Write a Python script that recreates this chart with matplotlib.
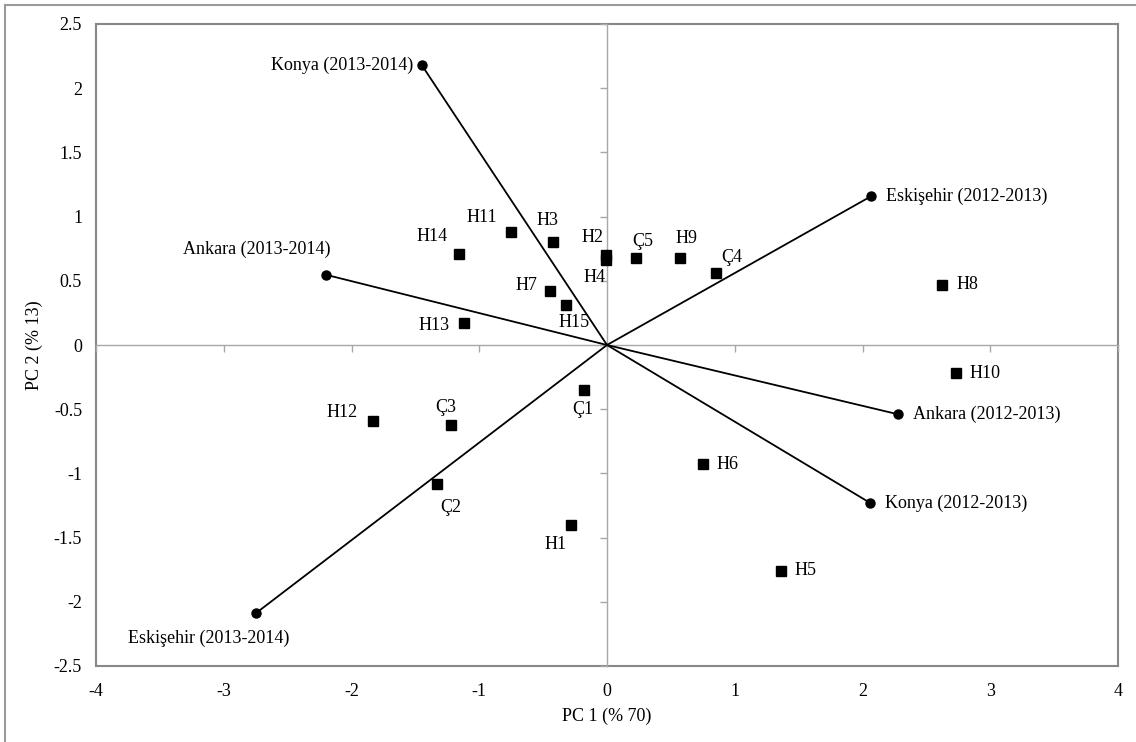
"""
PCA biplot: genotypes (squares) and environments (vectors) on PC1 / PC2.
"""
import matplotlib.pyplot as plt
from matplotlib.lines import Line2D

# environment vectors (end points)
env_names = ["Konya (2013-2014)", "Ankara (2013-2014)", "Eskişehir (2013-2014)",
             "Eskişehir (2012-2013)", "Ankara (2012-2013)", "Konya (2012-2013)"]
env_pc1 = [-1.45, -2.20, -2.75, 2.07, 2.28, 2.06]
env_pc2 = [2.18, 0.547, -2.09, 1.16, -0.54, -1.23]

# genotypes
gen_names = ["H14", "H11", "H3", "H2", "H4", "Ç5", "H9", "Ç4", "H7", "H15", "H13",
             "H8", "H10", "H6", "H5", "Ç1", "Ç3", "Ç2", "H1", "H12"]
gen_pc1 = [-1.16, -0.755, -0.42, -0.01, -0.01, 0.23, 0.57, 0.85, -0.45, -0.32, -1.12,
           2.62, 2.73, 0.755, 1.36, -0.18, -1.22, -1.33, -0.28, -1.83]
gen_pc2 = [0.71, 0.88, 0.80, 0.70, 0.66, 0.68, 0.68, 0.56, 0.42, 0.31, 0.17,
           0.47, -0.22, -0.93, -1.76, -0.35, -0.62, -1.08, -1.40, -0.59]

x_ticks = [-4, -3, -2, -1, 0, 1, 2, 3, 4]
y_ticks = [-2.5, -2, -1.5, -1, -0.5, 0, 0.5, 1, 1.5, 2, 2.5]

# label placement (offset in pixels from the marker, horizontal alignment)
env_label_pos = {
    "Konya (2013-2014)": (-9, 0, "right"),
    "Ankara (2013-2014)": (-69, 25, "center"),
    "Eskişehir (2013-2014)": (-47, -25, "center"),
    "Eskişehir (2012-2013)": (15, 0, "left"),
    "Ankara (2012-2013)": (15, 0, "left"),
    "Konya (2012-2013)": (15, 0, "left"),
}
gen_label_pos = {
    "H14": (-27, 17, "center"), "H11": (-29, 15, "center"), "H3": (-6, 22, "center"),
    "H2": (-13, 18, "center"), "H4": (-11, -17, "center"), "Ç5": (6, 16, "center"),
    "H9": (7, 19, "center"), "Ç4": (16, 16, "center"), "H7": (-12, 6, "right"),
    "H15": (8, -17, "center"), "H13": (-14, -2, "right"), "H8": (15, 0, "left"),
    "H10": (14, 0, "left"), "H6": (13, 0, "left"), "H5": (14, 0, "left"),
    "Ç1": (-1, -20, "center"), "Ç3": (-5, 17, "center"), "Ç2": (14, -24, "center"),
    "H1": (-16, -20, "center"), "H12": (-16, 8, "right"),
}

plt.rcParams["font.family"] = ["Liberation Serif", "DejaVu Serif"]
plt.rcParams["font.size"] = 13
plt.rcParams["axes.unicode_minus"] = False

W, H = 1136, 742
fig = plt.figure(figsize=(W / 100, H / 100), dpi=100)
rect = [96 / W, (H - 666) / H, 1022 / W, 642 / H]

# outer frame (only top and left visible in the original crop)
fig.add_artist(Line2D([5 / W, 1.0], [1 - 5 / H, 1 - 5 / H], color="#9a9a9a", lw=1.5))
fig.add_artist(Line2D([5 / W, 5 / W], [0, 1 - 5 / H], color="#9a9a9a", lw=1.5))

# frame axes: plot box + tick labels on the outside
frame = fig.add_axes(rect)
frame.set_xlim(-4, 4)
frame.set_ylim(-2.5, 2.5)
frame.set_xticks(x_ticks)
frame.set_xticklabels([str(t) for t in x_ticks])
frame.set_yticks(y_ticks)
frame.set_yticklabels([f"{t:g}" for t in y_ticks])
frame.tick_params(length=0, labelsize=13)
frame.tick_params(axis="y", pad=10)
frame.tick_params(axis="x", pad=12)
for sp in frame.spines.values():
    sp.set_color("#888888")
    sp.set_linewidth(1.5)
frame.set_xlabel("PC 1 (% 70)", labelpad=6)
frame.set_ylabel("PC 2 (% 13)", labelpad=8)

# data axes: axis lines through the origin
ax = fig.add_axes(rect, sharex=frame, sharey=frame)
ax.patch.set_visible(False)
ax.spines["left"].set_position(("data", 0))
ax.spines["bottom"].set_position(("data", 0))
ax.spines["top"].set_visible(False)
ax.spines["right"].set_visible(False)
for side in ("left", "bottom"):
    ax.spines[side].set_color("#a8a8a8")
    ax.spines[side].set_linewidth(1)
ax.tick_params(direction="out", length=5, width=1, color="#a8a8a8",
               labelbottom=False, labelleft=False)

for name, x, y in zip(env_names, env_pc1, env_pc2):
    ax.plot([0, x], [0, y], color="black", lw=1.3, zorder=3)
    ax.plot(x, y, "o", color="black", ms=6.5, zorder=4)
    dx, dy, ha = env_label_pos[name]
    ax.annotate(name, (x, y), xytext=(dx * 0.72, dy * 0.72), textcoords="offset points",
                ha=ha, va="center", fontsize=13)

ax.plot(gen_pc1, gen_pc2, "s", color="black", ms=6.5, ls="none", zorder=4)
for name, x, y in zip(gen_names, gen_pc1, gen_pc2):
    dx, dy, ha = gen_label_pos[name]
    ax.annotate(name, (x, y), xytext=(dx * 0.72, dy * 0.72), textcoords="offset points",
                ha=ha, va="center", fontsize=13)

fig.savefig("out.png", dpi=100)
